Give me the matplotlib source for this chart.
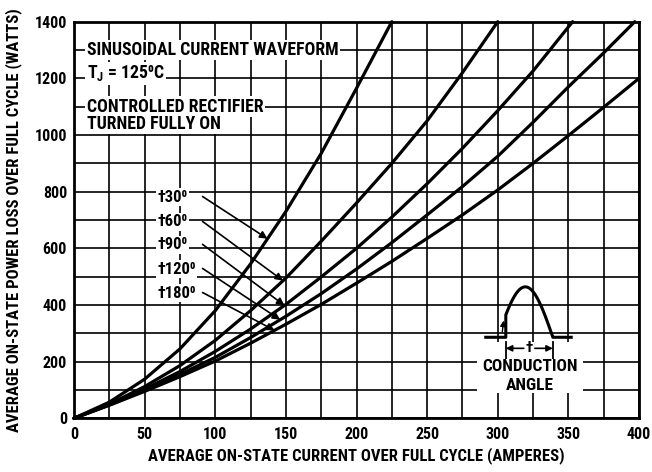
import numpy as np
import matplotlib
matplotlib.use("Agg")
import matplotlib.pyplot as plt
from matplotlib.patches import Rectangle

FONT = ['Roboto Condensed', 'Liberation Sans Narrow', 'Roboto', 'DejaVu Sans']
plt.rcParams['font.family'] = FONT
plt.rcParams['font.weight'] = 'bold'
plt.rcParams['mathtext.default'] = 'regular'

# ---------------- data ----------------
x_30 = [0, 25, 50, 75, 100, 125, 150, 175, 200, 225]
p_30 = [0, 57, 138, 245, 380, 545, 730, 935, 1165, 1400]

x_60 = [0, 25, 50, 75, 100, 125, 150, 175, 200, 225, 250, 275, 300]
p_60 = [0, 50, 112, 186, 275, 380, 495, 625, 760, 900, 1050, 1220, 1400]

x_90 = [0, 25, 50, 75, 100, 125, 150, 175, 200, 225, 250, 275, 300, 325, 353]
p_90 = [0, 48, 103, 165, 236, 315, 402, 499, 600, 710, 828, 953, 1086, 1226, 1400]

x_120 = [0, 25, 50, 75, 100, 125, 150, 175, 200, 225, 250, 275, 300, 325, 350, 375, 397]
p_120 = [0, 47, 99, 155, 215, 285, 360, 440, 527, 620, 718, 818, 925, 1045, 1170, 1290, 1400]

x_180 = [0, 25, 50, 75, 100, 125, 150, 175, 200, 225, 250, 275, 300, 325, 350, 375, 400]
p_180 = [0, 46, 95, 147, 202, 265, 332, 402, 477, 554, 635, 718, 806, 900, 998, 1098, 1200]

series = [(x_30, p_30), (x_60, p_60), (x_90, p_90), (x_120, p_120), (x_180, p_180)]
labels = ['\u202030\u2070', '\u202060\u2070', '\u202090\u2070', '\u2020120\u2070', '\u2020180\u2070']

x_ticks = [0, 50, 100, 150, 200, 250, 300, 350, 400]
y_ticks = [0, 200, 400, 600, 800, 1000, 1200, 1400]

# label anchor (left, centre) and arrow tip x positions in data units
label_x = 59
label_y = [781, 693, 612, 527, 442]
arrow_start_x = 91
arrow_tip_x = [137, 148, 149, 146, 142]

# ---------------- figure ----------------
fig = plt.figure(figsize=(6.52, 4.72), dpi=100)
ax = fig.add_axes([74/652, 1-418.3/472, (639-74)/652, (418.3-21.7)/472])
ax.set_xlim(0, 400)
ax.set_ylim(0, 1400)

ax.set_xticks(x_ticks)
ax.set_yticks(y_ticks)
ax.set_xticks(np.arange(0, 401, 25), minor=True)
ax.set_yticks(np.arange(0, 1401, 100), minor=True)
ax.grid(which='both', color='black', linewidth=1.2, zorder=1)
ax.set_axisbelow(True)
ax.tick_params(which='both', length=0)
ax.tick_params(axis='x', pad=6, labelsize=11.5)
ax.tick_params(axis='y', pad=5, labelsize=11.5)
for lab in ax.get_xticklabels() + ax.get_yticklabels():
    lab.set_fontweight('bold')
for sp in ax.spines.values():
    sp.set_linewidth(2.0)

for xs, ps in series:
    ax.plot(xs, ps, color='black', linewidth=2.3, solid_capstyle='round', zorder=3, clip_on=False)

ax.set_xlabel('AVERAGE ON-STATE CURRENT OVER FULL CYCLE (AMPERES)', fontsize=12,
              fontweight='bold', labelpad=4)
ax.set_ylabel('AVERAGE ON-STATE POWER LOSS OVER FULL CYCLE (WATTS)', fontsize=12,
              fontweight='bold', labelpad=9)

# curve labels with arrows
for (xs, ps), lab, ly, tx in zip(series, labels, label_y, arrow_tip_x):
    ax.text(label_x, ly, lab, fontsize=12, fontweight='bold', ha='left', va='center',
            bbox=dict(facecolor='white', edgecolor='none', pad=0.8), zorder=4)
    ty = np.interp(tx, xs, ps)
    ax.annotate('', xy=(tx, ty), xytext=(arrow_start_x, ly + 2),
                arrowprops=dict(arrowstyle='-|>', color='black', lw=1.2,
                                mutation_scale=11, shrinkA=0, shrinkB=0), zorder=5)

# header notes
tb = dict(facecolor='white', edgecolor='none', pad=1.0)
HF = 12.8
ax.text(9, 1300, 'SINUSOIDAL CURRENT WAVEFORM', fontsize=HF, fontweight='bold',
        ha='left', va='center', bbox=tb, zorder=4)
ax.text(9, 1218, 'T$_J$ = 125\u2070C', fontsize=HF, fontweight='bold',
        ha='left', va='center', bbox=tb, zorder=4)
ax.text(9, 1100, 'CONTROLLED RECTIFIER', fontsize=HF, fontweight='bold',
        ha='left', va='center', bbox=tb, zorder=4)
ax.text(9, 1040, 'TURNED FULLY ON', fontsize=HF, fontweight='bold',
        ha='left', va='center', bbox=tb, zorder=4)

# conduction angle inset (schematic icon)
base_w = 286
arc_a0, arc_a1, arc_h = 300, 339, 178
fire_a = 305.7
left_a, right_a = 291.5, 352

ax.add_patch(Rectangle((285, 88), 75, 180, facecolor='white', edgecolor='none', zorder=2))
t = np.linspace(fire_a, arc_a1, 80)
arc = base_w + arc_h * np.sin(np.pi * (t - arc_a0) / (arc_a1 - arc_a0))
ax.plot([left_a, fire_a] + list(t) + [right_a], [base_w, base_w] + list(arc) + [base_w],
        color='black', lw=2.2, zorder=3)
ax.annotate('', xy=(fire_a - 1.5, 345), xytext=(fire_a - 2.5, 305),
            arrowprops=dict(arrowstyle='-|>', color='black', lw=1.0, mutation_scale=8,
                            shrinkA=0, shrinkB=0), zorder=4)
for a in (fire_a, arc_a1):
    ax.plot([a, a], [195, 268], color='black', lw=1.3, zorder=4)
mid = (fire_a + arc_a1) / 2
for end in (fire_a, arc_a1):
    ax.annotate('', xy=(end, 247), xytext=(mid, 247),
                arrowprops=dict(arrowstyle='-|>', color='black', lw=1.2, mutation_scale=9,
                                shrinkA=4, shrinkB=0), zorder=4)
ax.text(mid, 247, '\u2020', fontsize=11, fontweight='bold', ha='center', va='center', zorder=5)
ax.text(322.7, 182, 'CONDUCTION', fontsize=12.5, fontweight='bold', ha='center', va='center',
        zorder=5, bbox=dict(facecolor='white', edgecolor='none', pad=0.5))
ax.text(322.7, 117, 'ANGLE', fontsize=12.5, fontweight='bold', ha='center', va='center',
        zorder=5, bbox=dict(facecolor='white', edgecolor='none', pad=0.5))

fig.savefig('out.png', dpi=100)
